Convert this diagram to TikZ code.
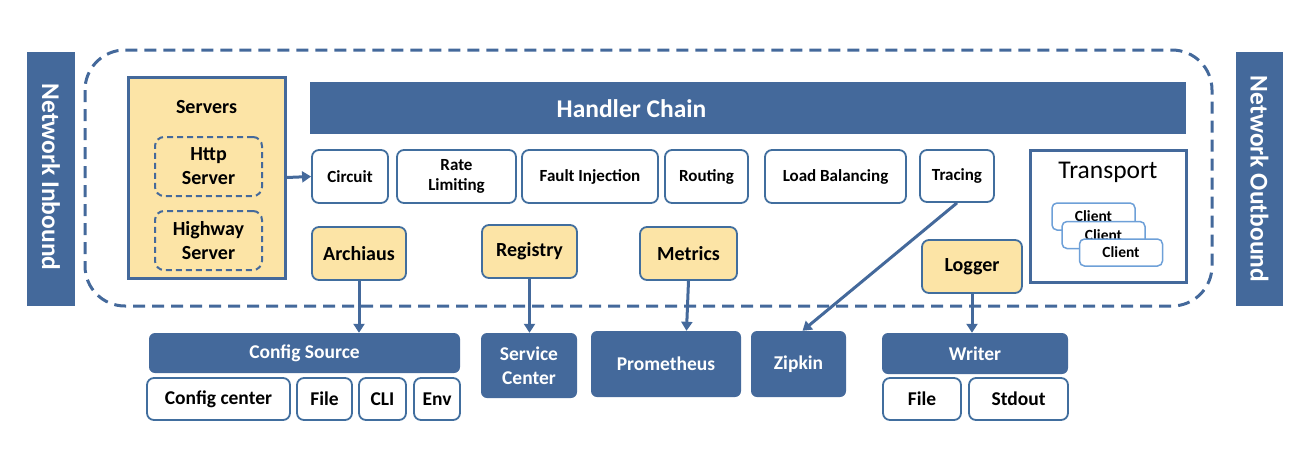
\documentclass[tikz,border=0pt]{standalone}
\usepackage{fontspec}
\setmainfont{Carlito}
\usetikzlibrary{arrows.meta}
\definecolor{nb}{RGB}{68,105,155}
\definecolor{bd}{RGB}{65,110,158}
\definecolor{yl}{RGB}{252,228,166}
\definecolor{cb}{RGB}{110,160,216}
\begin{document}
\begin{tikzpicture}[x=1pt,y=-1pt,
  darkbar/.style={fill=nb,draw=none,text=white,font=\bfseries,inner sep=0pt,align=center},
  darkbox/.style={darkbar,rounded corners=6pt},
  handler/.style={draw=bd,line width=1.8pt,fill=white,rounded corners=7pt,font=\bfseries\fontsize{17}{20}\selectfont,align=center,inner sep=0pt},
  yellowbox/.style={draw=bd,line width=1.8pt,fill=yl,rounded corners=7pt,font=\bfseries\fontsize{20}{22}\selectfont,inner sep=0pt},
  subbox/.style={draw=bd,line width=1.8pt,fill=white,rounded corners=7pt,font=\bfseries\fontsize{19.5}{22}\selectfont,inner sep=0pt},
  dashbox/.style={draw=nb,line width=2pt,dash pattern=on 6pt off 4pt,rounded corners=9pt,align=center,font=\bfseries\fontsize{20}{24}\selectfont,inner sep=0pt},
  client/.style={draw=cb,line width=1.5pt,fill=white,rounded corners=5pt,font=\bfseries\fontsize{15.5}{16}\selectfont,inner sep=0pt,minimum width=83pt,minimum height=27pt},
  conn/.style={draw=nb,line width=3pt,-{Triangle[width=11pt,length=9pt]}}]
\useasboundingbox (0,0) rectangle (1312,448);
% outer dashed region
\draw[nb,line width=3pt,dash pattern=on 12pt off 7pt,rounded corners=40pt] (85,50) rectangle (1212,306);
% network side bars
\node[darkbar,minimum width=48pt,minimum height=254pt] (inb) at (51,179) {};
\node[text=white,font=\bfseries\fontsize{25.5}{27}\selectfont,rotate=-90] (inbt) at ([yshift=2pt]inb.center) {Network Inbound};
\node[darkbar,minimum width=47pt,minimum height=254pt] (outb) at (1259.5,179) {};
\node[text=white,font=\bfseries\fontsize{25.5}{27}\selectfont,rotate=-90] (outbt) at (outb.center) {Network Outbound};
% servers
\node[draw=nb,line width=3pt,fill=yl,minimum width=157pt,minimum height=201pt,inner sep=0pt] (servers) at (206.5,177.5) {};
\node[font=\bfseries\fontsize{20}{22}\selectfont] (serverst) at (206.5,107) {Servers};
\node[dashbox,minimum width=107pt,minimum height=59pt] (http) at (208.5,166.5) {Http\\Server};
\node[dashbox,minimum width=107pt,minimum height=59pt] (highway) at (208.5,240.5) {Highway\\Server};
% handler chain
\node[darkbar,minimum width=876pt,minimum height=52pt] (chain) at (748,108) {};
\node[text=white,font=\bfseries\fontsize{25.5}{27}\selectfont] (chaint) at (631.5,109) {Handler Chain};
\node[handler,minimum width=76pt,minimum height=53pt] (circuit) at (350,176.5) {Circuit};
\node[handler,minimum width=119pt,minimum height=53pt] (rate) at (456.5,176.5) {Rate\\Limiting};
\node[handler,minimum width=136pt,minimum height=53pt] (fault) at (590,176.5) {Fault Injection};
\node[handler,minimum width=83pt,minimum height=53pt] (routing) at (706.5,176.5) {Routing};
\node[handler,minimum width=141pt,minimum height=53pt] (lb) at (835.5,176.5) {Load Balancing};
\node[handler,minimum width=74pt,minimum height=52pt] (tracing) at (957,176) {Tracing};
% transport
\node[draw=nb,line width=3pt,fill=white,minimum width=156pt,minimum height=132pt,inner sep=0pt] (transport) at (1108,216) {};
\node[font=\fontsize{25.5}{27}\selectfont] (transportt) at (1108,172) {Transport};
\node[client] (c1) at (1093.5,216.5) {Client};
\node[client] (c2) at (1103.5,235) {Client};
\node[client] (c3) at (1121,252.5) {Client};
% components
\node[yellowbox,minimum width=94pt,minimum height=53pt] (archiaus) at (359,253.5) {Archiaus};
\node[yellowbox,minimum width=95pt,minimum height=53pt] (registry) at (529.5,251.5) {Registry};
\node[yellowbox,minimum width=97pt,minimum height=53pt] (metrics) at (688.5,253.5) {Metrics};
\node[yellowbox,minimum width=100pt,minimum height=53pt] (logger) at (972,266.5) {Logger};
% backends
\node[darkbox,minimum width=311pt,minimum height=40pt,font=\bfseries\fontsize{19.5}{21}\selectfont] (cfgsrc) at (304.5,353) {Config Source};
\node[subbox,minimum width=143pt,minimum height=42pt] (cfgcenter) at (218.5,399) {Config center};
\node[subbox,minimum width=55pt,minimum height=42pt] (file1) at (324.5,399) {File};
\node[subbox,minimum width=47pt,minimum height=42pt] (cli) at (382.5,399) {CLI};
\node[subbox,minimum width=46pt,minimum height=42pt] (env) at (437,399) {Env};
\node[darkbox,minimum width=96pt,minimum height=65pt,font=\bfseries\fontsize{19.5}{24}\selectfont] (svc) at (529,365.5) {Service\\Center};
\node[darkbox,minimum width=150pt,minimum height=66pt,font=\bfseries\fontsize{19.5}{21}\selectfont] (prom) at (666,364) {Prometheus};
\node[darkbox,minimum width=95pt,minimum height=66pt,font=\bfseries\fontsize{19.5}{21}\selectfont] (zipkin) at (798.5,364) {Zipkin};
\node[darkbox,minimum width=186pt,minimum height=41pt,font=\bfseries\fontsize{19.5}{21}\selectfont] (writer) at (975,353.5) {Writer};
\node[subbox,minimum width=78pt,minimum height=42pt] (file2) at (922,399) {File};
\node[subbox,minimum width=99pt,minimum height=42pt] (stdout) at (1018.5,399) {Stdout};
% connectors
\draw[conn] (servers.east) -- (circuit.west);
\draw[conn] (archiaus.south) -- (archiaus.south |- cfgsrc.north);
\draw[conn] (registry.south) -- (registry.south |- svc.north);
\draw[conn] (metrics.south) -- ([xshift=-2pt]metrics.south |- prom.north);
\draw[conn] (tracing.south) -- ([xshift=4pt]zipkin.north);
\draw[conn] (logger.south) -- (logger.south |- writer.north);
\end{tikzpicture}
\end{document}
